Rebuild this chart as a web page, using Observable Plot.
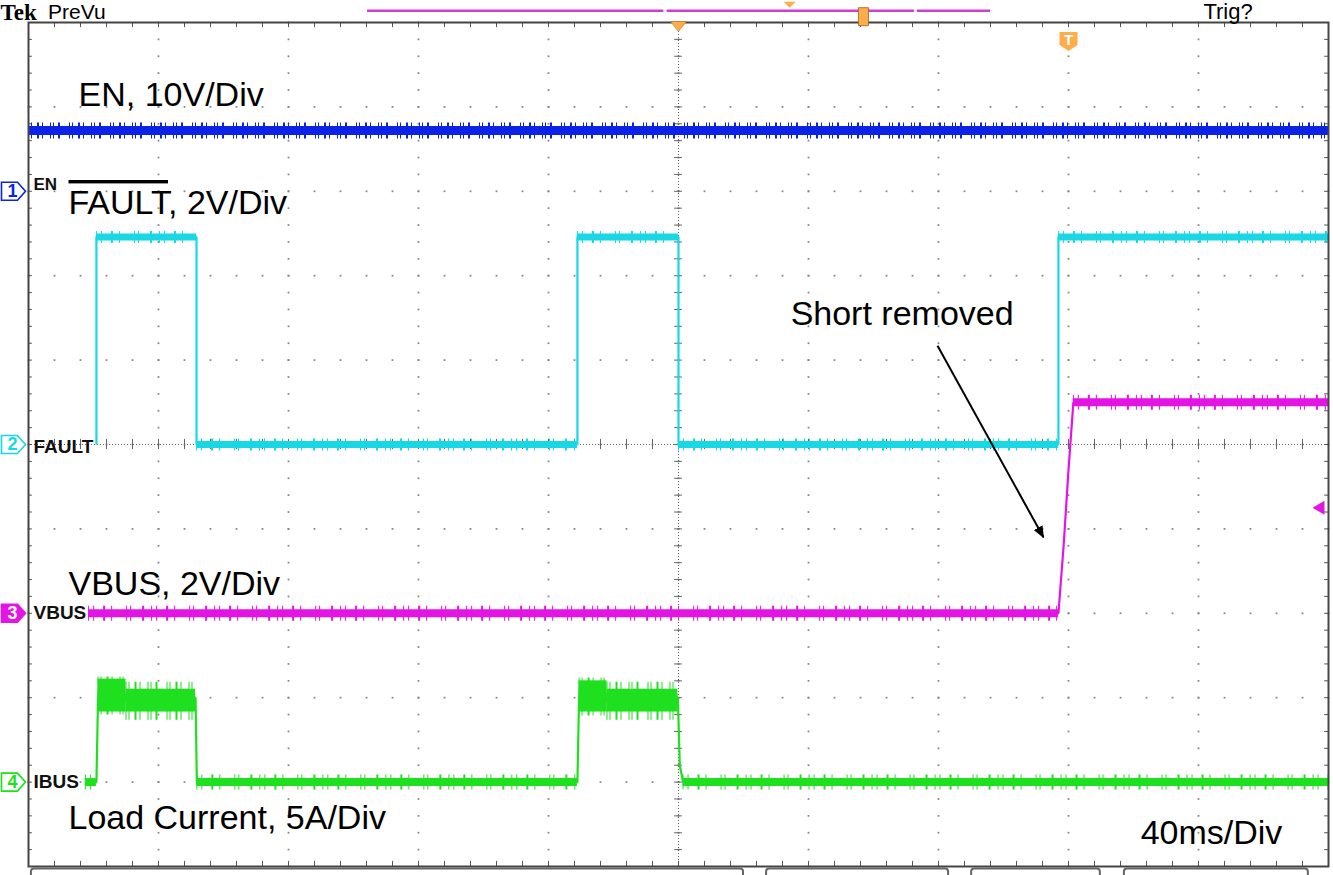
<!DOCTYPE html>
<html><head><meta charset="utf-8">
<script src="https://cdn.jsdelivr.net/npm/d3@7"></script>
<script src="https://cdn.jsdelivr.net/npm/@observablehq/plot@0.6"></script>
<style>
body{margin:0;background:#fff;}
#chart{width:1333px;height:875px;overflow:hidden;}
#chart svg{display:block;font-family:"Liberation Sans",Arial,sans-serif;}
</style>
</head><body><div id="chart"></div>
<script>
// ---- Data (time in ms, 40 ms/div; vertical in divisions, 0 = screen centre) ----
const enT = [-200, 200];
const enV = [3.72, 3.72];
const faultT = [-179.1, -179.1, -148.3, -148.3, -31.1, -31.1, 0, 0, 116.9, 116.9, 200];
const faultV = [0, 2.46, 2.46, 0, 0, 2.46, 2.46, 0, 0, 2.46, 2.46];
const vbusT = [-181.5, 116.9, 118.5, 120.0, 121.5, 200];
const vbusV = [-2, -2, -1.2, -0.3, 0.5, 0.5];
const ibusT = [-182.5, -179.1, -178.6, -148.6, -148.2, -31.1, -30.6, -0.2, 0.4, 1.4, 200];
const ibusV = [-4, -4, -3.0, -3.0, -4, -4, -3.0, -3.0, -3.8, -4, -4];
// noisy "on" band of the load current
const ibusBandT1 = [-178.6, -170.0, -30.6, -22.0];
const ibusBandT2 = [-170.0, -148.6, -22.0, -0.2];
const ibusBandLo = [-3.17, -3.17, -3.17, -3.17];
const ibusBandHi = [-2.78, -2.90, -2.80, -2.90];

// channel markers
const chNum = ["1", "2", "3", "4"];
const chName = ["EN", "FAULT", "VBUS", "IBUS"];
const chOffset = [3.0, 0, -2, -4];
const chNameY = [3.08, -0.03, -2, -4];
const chColor = ["#0c22e4", "#18d8e6", "#e414e4", "#1fe01f"];
const trigLevel = -0.75;

// annotation texts
const noteText = ["EN, 10V/Div", "FAULT, 2V/Div", "VBUS, 2V/Div", "Load Current, 5A/Div", "Short removed", "40ms/Div"];
const noteT = [-184.6, -187.7, -187.7, -187.7, 34.5, 142.2];
const noteY = [4.14, 2.86, -1.65, -4.43, 1.55, -4.61];
// arrow for "Short removed"
const arrowT1 = 79.7, arrowY1 = 1.17, arrowT2 = 112.3, arrowY2 = -1.10;

// top bar items
const recBarT1 = [-95.7, -3.5, 73.5];
const recBarT2 = [-4.5, 72.6, 96.0];
const topY = 5.14, topTextY = 5.12;
const trigPosT = 0, smallTriT = 34.2, posMarkT = 56.9, tMarkT = 120;
// bottom status boxes
const boxT1 = [-199.1, 27.1, 90.2, 137.2];
const boxT2 = [20.0, 83.1, 129.8, 193.8];

// ---- build tables ----
const pts = (T, V) => T.map((t, i) => ({t, v: V[i]}));
const flats = (T, V) => T.slice(1).map((t, i) => ({t1: T[i], t2: t, v: V[i]})).filter((d, i) => V[i] === V[i + 1] && d.t2 > d.t1);
const en = pts(enT, enV), fault = pts(faultT, faultV), vbus = pts(vbusT, vbusV), ibus = pts(ibusT, ibusV);
const bands = ibusBandT1.map((t1, i) => ({t1, t2: ibusBandT2[i], lo: ibusBandLo[i], hi: ibusBandHi[i]}));
const chans = chNum.map((n, i) => ({n, name: chName[i], y: chOffset[i], ny: chNameY[i], c: chColor[i]}));
const notes = noteText.map((s, i) => ({s, t: noteT[i], y: noteY[i]}));

// grid positions (graticule 10 x 10 divisions)
const majX = d3.range(-160, 161, 40);
const majY = d3.range(-4, 4.01, 1);
const minX = d3.range(-200, 200.01, 8);
const minY = d3.range(-5, 5.001, 0.2).map(v => +v.toFixed(2));
const vDots = majX.flatMap(x => minY.map(y => ({x, y})));
const hDots = majY.flatMap(y => minX.map(x => ({x, y})));

const tagSym = {draw(c) { c.moveTo(-12, -9); c.lineTo(4, -9); c.lineTo(12, 0); c.lineTo(4, 9); c.lineTo(-12, 9); c.closePath(); }};
const leftTri = {draw(c) { c.moveTo(-8, 0); c.lineTo(4, -7); c.lineTo(4, 7); c.closePath(); }};
const downTri = {draw(c) { c.moveTo(-8, -5); c.lineTo(8, -5); c.lineTo(0, 5); c.closePath(); }};
const smallDownTri = {draw(c) { c.moveTo(-6, -3); c.lineTo(6, -3); c.lineTo(0, 3); c.closePath(); }};
const posRect = {draw(c) { c.moveTo(-5, -9); c.lineTo(5, -9); c.lineTo(5, 9); c.lineTo(-5, 9); c.closePath(); }};
const shield = {draw(c) { c.moveTo(-9, -9); c.lineTo(9, -9); c.lineTo(9, 4); c.lineTo(0, 10); c.lineTo(-9, 4); c.closePath(); }};

const spikeDash = "1,4,1,9,2,6,1,14,1,3,1,11,2,7";
const denseDash = "1,2,1,5,2,3,1,7,1,2,1,4,2,9";
const orange = "#ffad4a";

const traceMarks = (data, T, V, color, bandW, spikeW, dash) => [
  Plot.line(data, {x: "t", y: "v", stroke: color, strokeWidth: 2.2, strokeLinejoin: "miter", strokeLinecap: "butt"}),
  Plot.ruleY(flats(T, V), {x1: "t1", x2: "t2", y: "v", stroke: color, strokeWidth: bandW}),
  Plot.ruleY(flats(T, V), {x1: "t1", x2: "t2", y: "v", stroke: color, strokeWidth: spikeW, strokeDasharray: dash || spikeDash})
];

const plot = Plot.plot({
  width: 1333, height: 875,
  marginLeft: 28, marginRight: 5, marginTop: 22, marginBottom: 9,
  x: {domain: [-200, 200], axis: null},
  y: {domain: [-5, 5], axis: null},
  style: {fontFamily: "Liberation Sans, Arial, sans-serif", background: "#fff", overflow: "visible"},
  marks: [
    // graticule
    Plot.dot(vDots, {x: "x", y: "y", symbol: "square", r: 1, fill: "#8a8290", stroke: null}),
    Plot.dot(hDots, {x: "x", y: "y", symbol: "square", r: 1, fill: "#8a8290", stroke: null}),
    Plot.ruleY([0], {stroke: "#666", strokeWidth: 1, strokeDasharray: "1,2"}),
    Plot.ruleX([0], {stroke: "#666", strokeWidth: 1, strokeDasharray: "1,2"}),
    Plot.ruleX(minX, {x: d => d, y1: -0.06, y2: 0.06, stroke: "#666"}),
    Plot.ruleY(minY, {y: d => d, x1: -1.2, x2: 1.2, stroke: "#666"}),
    Plot.ruleX(minX, {x: d => d, y1: 5, y2: 4.94, stroke: "#555"}),
    Plot.ruleX(minX, {x: d => d, y1: -5, y2: -4.94, stroke: "#555"}),
    Plot.ruleY(minY, {y: d => d, x1: -200, x2: -198.8, stroke: "#555"}),
    Plot.ruleY(minY, {y: d => d, x1: 200, x2: 198.8, stroke: "#555"}),
    // traces
    ...traceMarks(en, enT, enV, chColor[0], 9, 16, denseDash),
    ...traceMarks(fault, faultT, faultV, chColor[1], 7, 12),
    ...traceMarks(vbus, vbusT, vbusV, chColor[2], 8, 15),
    Plot.rect(bands, {x1: "t1", x2: "t2", y1: "lo", y2: "hi", fill: chColor[3]}),
    Plot.ruleY(bands, {x1: "t1", x2: "t2", y: d => (d.lo + d.hi) / 2, stroke: chColor[3], strokeWidth: 38, strokeDasharray: denseDash}),
    ...traceMarks(ibus, ibusT, ibusV, chColor[3], 8, 15),
    Plot.frame({stroke: "#444", strokeWidth: 2}),
    // channel markers and labels
    Plot.dot(chans, {x: -200, y: "y", dx: -15, symbol: tagSym, r: 1, fill: d => d.n === "3" ? d.c : "#fff", stroke: d => d.c, strokeWidth: 1.6}),
    Plot.text(chans, {x: -200, y: "y", dx: -16, text: "n", fill: d => d.n === "3" ? "#fff" : d.c, fontSize: 18, fontWeight: "bold"}),
    Plot.text(chans, {x: -200, y: "ny", dx: 5, text: "name", textAnchor: "start", fill: "#111", fontSize: d => d.name === "EN" ? 17 : 19, fontWeight: 600}),
    Plot.dot([trigLevel], {x: 200, y: d => d, dx: -8, symbol: leftTri, r: 1, fill: chColor[2], stroke: null}),
    // annotations
    Plot.text(notes, {x: "t", y: "y", text: "s", textAnchor: "start", fontSize: 34, fill: "#000"}),
    Plot.link([{x1: arrowT1, y1: arrowY1, x2: arrowT2, y2: arrowY2}], {x1: "x1", y1: "y1", x2: "x2", y2: "y2", stroke: "#000", strokeWidth: 2}),
    // top bar
    Plot.text(["Tek"], {x: -208.6, y: topTextY, text: d => d, textAnchor: "start", fontSize: 23, fontWeight: "bold", fontFamily: "Liberation Serif, serif", fill: "#000"}),
    Plot.text(["PreVu"], {x: -194.0, y: topTextY, text: d => d, textAnchor: "start", fontSize: 21, fill: "#000"}),
    Plot.text(["Trig?"], {x: 161.5, y: topTextY, text: d => d, textAnchor: "start", fontSize: 22, fill: "#000"}),
    Plot.ruleY(recBarT1.map((t1, i) => ({t1, t2: recBarT2[i]})), {x1: "t1", x2: "t2", y: topY, stroke: "#d33cd3", strokeWidth: 2.5}),
    Plot.dot([trigPosT], {x: d => d, y: 5, dy: 4, symbol: downTri, r: 1, fill: orange, stroke: "#b06a10", strokeWidth: 0.5}),
    Plot.dot([smallTriT], {x: d => d, y: topY, dy: -6, symbol: smallDownTri, r: 1, fill: orange, stroke: null}),
    Plot.dot([posMarkT], {x: d => d, y: topY, dy: 6, symbol: posRect, r: 1, fill: orange, stroke: "#a0601a", strokeWidth: 0.8}),
    Plot.dot([tMarkT], {x: d => d, y: 4.78, symbol: shield, r: 1, fill: orange, stroke: null}),
    Plot.text([tMarkT], {x: d => d, y: 4.78, dy: -1, text: () => "T", fill: "#fff", fontSize: 15, fontWeight: "bold"}),
    // bottom status boxes
    Plot.rect(boxT1.map((t1, i) => ({t1, t2: boxT2[i]})), {x1: "t1", x2: "t2", y1: -5.03, y2: -5.2, fill: "#fff", stroke: "#666", strokeWidth: 2, rx: 3})
  ]
});

// filled arrow head
const svg = plot;
const ns = "http://www.w3.org/2000/svg";
const defs = document.createElementNS(ns, "defs");
defs.innerHTML = '<marker id="ahead" viewBox="0 0 12 10" refX="11" refY="5" markerWidth="12" markerHeight="10" markerUnits="userSpaceOnUse" orient="auto"><path d="M0,0L12,5L0,10z" fill="#000"/></marker>';
svg.insertBefore(defs, svg.firstChild);
svg.querySelectorAll('g[aria-label="link"] path').forEach(p => p.setAttribute("marker-end", "url(#ahead)"));
// overline on FAULT
svg.querySelectorAll("text").forEach(t => {
  if (t.textContent === "FAULT, 2V/Div") {
    t.textContent = "";
    const a = document.createElementNS(ns, "tspan"); a.textContent = "FAULT"; a.setAttribute("text-decoration", "overline"); a.style.textDecoration = "overline";
    const b = document.createElementNS(ns, "tspan"); b.textContent = ", 2V/Div";
    t.appendChild(a); t.appendChild(b);
  }
});
document.getElementById("chart").appendChild(svg);
</script>
</body></html>
